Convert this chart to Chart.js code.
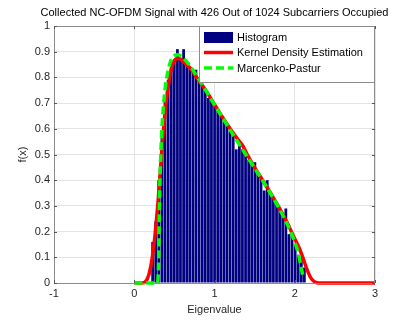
<!DOCTYPE html>
<html>
<head>
<meta charset="utf-8">
<script src="https://cdn.jsdelivr.net/npm/chart.js@4.4.0/dist/chart.umd.min.js"></script>
<style>
html, body { margin: 0; padding: 0; background: #fff; }
</style>
</head>
<body>
<canvas id="chart" width="415" height="321"></canvas>
<script>
var titleText = "Collected NC-OFDM Signal with 426 Out of 1024 Subcarriers Occupied";
var xTicks = [-1, 0, 1, 2, 3];

// histogram: bin centres and heights
var binCenters = [0.229, 0.268, 0.306, 0.345, 0.383, 0.422, 0.461, 0.499, 0.538, 0.576,
    0.615, 0.654, 0.692, 0.731, 0.769, 0.808, 0.847, 0.885, 0.924, 0.962,
    1.001, 1.040, 1.078, 1.117, 1.155, 1.194, 1.233, 1.271, 1.310, 1.348,
    1.387, 1.426, 1.464, 1.503, 1.541, 1.580, 1.619, 1.657, 1.696, 1.734,
    1.773, 1.812, 1.850, 1.889, 1.927, 1.966, 2.005, 2.043, 2.082, 2.120];
var binHeights = [0.16, 0.24, 0.40, 0.58, 0.72, 0.79, 0.84, 0.87, 0.91, 0.87,
    0.91, 0.85, 0.84, 0.82, 0.83, 0.79, 0.77, 0.75, 0.72, 0.71,
    0.69, 0.67, 0.65, 0.63, 0.62, 0.59, 0.58, 0.52, 0.55, 0.52,
    0.50, 0.48, 0.46, 0.47, 0.43, 0.41, 0.36, 0.40, 0.35, 0.33,
    0.31, 0.29, 0.27, 0.29, 0.19, 0.19, 0.15, 0.11, 0.10, 0.06];

// kernel density estimate
var kdeX = [0, 0.1, 0.14, 0.18, 0.22, 0.26, 0.30, 0.34, 0.38, 0.42, 0.46, 0.50, 0.55, 0.60, 0.65, 0.70,
    0.80, 0.90, 1.0, 1.1, 1.2, 1.3, 1.35, 1.4, 1.5, 1.6, 1.7, 1.8, 1.9, 2.0, 2.05, 2.1, 2.15, 2.2, 2.25, 2.3, 3.0];
var kdeY = [0, 0, 0.005, 0.03, 0.09, 0.19, 0.33, 0.50, 0.65, 0.76, 0.83, 0.865, 0.875, 0.865, 0.85, 0.835,
    0.79, 0.745, 0.695, 0.645, 0.598, 0.555, 0.535, 0.505, 0.45, 0.40, 0.35, 0.296, 0.238, 0.172, 0.14, 0.10, 0.055, 0.02, 0.004, 0, 0];

// Marcenko-Pastur curve
var mpX = [0, 0.29, 0.305, 0.31, 0.32, 0.34, 0.37, 0.40, 0.45, 0.50, 0.55, 0.60, 0.70, 0.80, 0.90,
    1.0, 1.1, 1.2, 1.3, 1.4, 1.5, 1.6, 1.7, 1.8, 1.9, 2.0, 2.05, 2.08, 2.1];
var mpY = [0, 0, 0.10, 0.22, 0.39, 0.57, 0.71, 0.79, 0.86, 0.885, 0.888, 0.879, 0.843, 0.795, 0.745,
    0.693, 0.643, 0.593, 0.544, 0.495, 0.447, 0.398, 0.347, 0.293, 0.233, 0.159, 0.108, 0.06, 0.03];

function pairs(xs, ys) {
    return xs.map((x, i) => ({ x: x, y: ys[i] }));
}

Chart.defaults.font.family = "'Liberation Sans', Arial, sans-serif";
Chart.defaults.font.size = 11;
Chart.defaults.color = '#262626';

/**
 * Draws title, axes box, inward ticks and the legend box
 */
var matlabLook = {
    id: 'matlabLook',
    afterDatasetsDraw(chart) {
        var ctx = chart.ctx, a = chart.chartArea;
        var xs = chart.scales.x, ys = chart.scales.y;
        ctx.save();
        ctx.strokeStyle = '#8c8c8c';
        ctx.lineWidth = 1;
        ctx.strokeRect(a.left + 0.5, a.top + 0.5, a.right - a.left - 1, a.bottom - a.top);
        ctx.strokeStyle = '#555';
        ctx.beginPath();
        xTicks.forEach(v => {
            var px = Math.round(xs.getPixelForValue(v)) + 0.5;
            ctx.moveTo(px, a.bottom); ctx.lineTo(px, a.bottom - 3);
            ctx.moveTo(px, a.top); ctx.lineTo(px, a.top + 3);
        });
        ys.ticks.forEach(t => {
            var py = Math.round(ys.getPixelForValue(t.value)) + 0.5;
            ctx.moveTo(a.left, py); ctx.lineTo(a.left + 3, py);
            ctx.moveTo(a.right, py); ctx.lineTo(a.right - 3, py);
        });
        ctx.stroke();
        ctx.restore();
    },
    afterDraw(chart) {
        var ctx = chart.ctx, a = chart.chartArea;
        ctx.save();
        // title centred over the axes
        ctx.fillStyle = '#000';
        ctx.font = "11px 'Liberation Sans', Arial, sans-serif";
        ctx.textAlign = 'center';
        ctx.textBaseline = 'middle';
        ctx.fillText(titleText, (a.left + a.right) / 2, 13);

        // legend
        var bx = 199, by = a.top, bw = a.right - bx, bh = 57;
        ctx.fillStyle = '#fff';
        ctx.fillRect(bx, by, bw, bh);
        ctx.strokeStyle = '#8c8c8c';
        ctx.strokeRect(bx + 0.5, by + 0.5, bw - 1, bh - 1);
        ctx.textAlign = 'left';
        chart.data.datasets.forEach((ds, i) => {
            var cy = by + 11 + i * 15.5;
            if (ds.type === 'bar') {
                ctx.fillStyle = ds.backgroundColor;
                ctx.fillRect(204, cy - 5, 29, 11);
            } else {
                ctx.strokeStyle = ds.borderColor;
                ctx.lineWidth = 3.5;
                ctx.setLineDash(ds.borderDash || []);
                ctx.beginPath();
                ctx.moveTo(204, cy); ctx.lineTo(233, cy);
                ctx.stroke();
                ctx.setLineDash([]);
            }
            ctx.fillStyle = '#000';
            ctx.fillText(ds.label, 237, cy + 0.5);
        });
        ctx.restore();
    }
};

var chart = new Chart(document.getElementById('chart'), {
    data: {
        datasets: [{
            type: 'bar',
            label: 'Histogram',
            data: pairs(binCenters, binHeights),
            backgroundColor: '#000080',
            barPercentage: 0.9,
            categoryPercentage: 1,
            order: 3
        }, {
            type: 'line',
            label: 'Kernel Density Estimation',
            data: pairs(kdeX, kdeY),
            borderColor: '#ff0000',
            borderWidth: 3.5,
            pointRadius: 0,
            cubicInterpolationMode: 'monotone',
            clip: 6,
            order: 2
        }, {
            type: 'line',
            label: 'Marcenko-Pastur',
            data: pairs(mpX, mpY),
            borderColor: '#00ff00',
            borderWidth: 3.5,
            borderDash: [8, 4],
            pointRadius: 0,
            cubicInterpolationMode: 'monotone',
            clip: 6,
            order: 1
        }]
    },
    options: {
        responsive: false,
        animation: false,
        layout: { padding: { left: 0, right: 40, top: 26, bottom: 0 } },
        plugins: { legend: { display: false }, tooltip: { enabled: false } },
        scales: {
            x: {
                type: 'linear', min: -1, max: 3, offset: false,
                afterBuildTicks: s => { s.ticks = xTicks.map(v => ({ value: v })); },
                grid: { color: '#e3e3e3', drawTicks: false, offset: false },
                border: { display: false },
                ticks: { padding: 4, maxRotation: 0 },
                title: { display: true, text: 'Eigenvalue', color: '#262626', font: { size: 11 }, padding: { top: 0, bottom: 4 } },
                afterFit: s => { s.height = 38; }
            },
            y: {
                type: 'linear', min: 0, max: 1,
                ticks: { stepSize: 0.1, padding: 4, callback: v => String(Math.round(v * 10) / 10) },
                grid: { color: '#e3e3e3', drawTicks: false },
                border: { display: false },
                title: { display: true, text: 'f(x)', color: '#262626', font: { size: 11 }, padding: { top: 16, bottom: 0 } },
                afterFit: s => { s.width = 54; }
            }
        }
    },
    plugins: [matlabLook]
});
</script>
</body>
</html>
